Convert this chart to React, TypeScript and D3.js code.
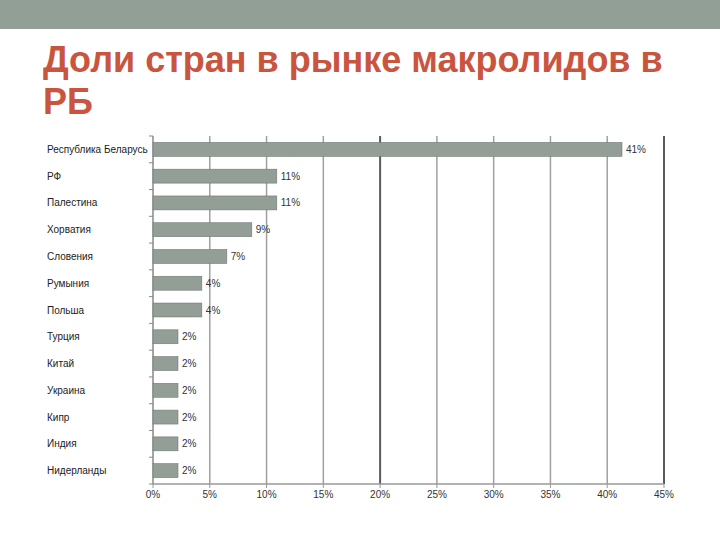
import React, { useEffect, useRef } from 'react';
import * as d3 from 'd3';

// Chart data
const countries = [
  'Республика Беларусь',
  'РФ',
  'Палестина',
  'Хорватия',
  'Словения',
  'Румыния',
  'Польша',
  'Турция',
  'Китай',
  'Украина',
  'Кипр',
  'Индия',
  'Нидерланды',
];
const shares = [41.3, 10.9, 10.9, 8.7, 6.5, 4.3, 4.3, 2.2, 2.2, 2.2, 2.2, 2.2, 2.2];
const shareLabels = ['41%', '11%', '11%', '9%', '7%', '4%', '4%', '2%', '2%', '2%', '2%', '2%', '2%'];
const xTicks = [0, 5, 10, 15, 20, 25, 30, 35, 40, 45];
const titleLines = ['Доли стран в рынке макролидов в', 'РБ'];

const App = () => {
  const ref = useRef<SVGSVGElement>(null);
  const width = 720;
  const height = 540;

  useEffect(() => {
    const svg = d3.select(ref.current);
    svg.selectAll('*').remove();

    // top band of the slide
    svg.append('rect').attr('x', 0).attr('y', 0).attr('width', width).attr('height', 29).attr('fill', '#919f97');

    // title
    svg
      .append('g')
      .selectAll('text')
      .data(titleLines)
      .enter()
      .append('text')
      .attr('x', 43)
      .attr('y', (d, i) => 72 + i * 42)
      .attr('font-family', '"Liberation Sans", Arial, sans-serif')
      .attr('font-weight', 'bold')
      .attr('font-size', 36)
      .attr('fill', '#c9553e')
      .text((d) => d);

    const left = 153;
    const right = 664;
    const top = 136;
    const bottom = 484;

    const x = d3.scaleLinear().domain([0, 45]).range([left, right]);
    const y = d3.scaleBand().domain(countries).range([top, bottom]).paddingInner(0.48).paddingOuter(0.24);

    const font = '"Liberation Sans", Arial, sans-serif';

    // vertical gridlines
    svg
      .append('g')
      .selectAll('line')
      .data(xTicks.slice(1))
      .enter()
      .append('line')
      .attr('x1', (d) => x(d))
      .attr('x2', (d) => x(d))
      .attr('y1', top)
      .attr('y2', bottom)
      .attr('stroke', (d) => (d === 20 || d === 45 ? '#5a5a5a' : '#a0a0a0'))
      .attr('stroke-width', (d) => (d === 20 || d === 45 ? 2 : 1.5));

    // left axis with category ticks
    svg.append('line').attr('x1', left).attr('x2', left).attr('y1', top).attr('y2', bottom).attr('stroke', '#888').attr('stroke-width', 1.5);
    const step = y.step();
    svg
      .append('g')
      .selectAll('line')
      .data(d3.range(countries.length + 1))
      .enter()
      .append('line')
      .attr('x1', left - 4)
      .attr('x2', left)
      .attr('y1', (i) => top + i * step)
      .attr('y2', (i) => top + i * step)
      .attr('stroke', '#888');

    // bottom axis
    svg.append('line').attr('x1', left).attr('x2', right).attr('y1', bottom).attr('y2', bottom).attr('stroke', '#999').attr('stroke-width', 1.5);
    svg
      .append('g')
      .selectAll('line')
      .data(xTicks)
      .enter()
      .append('line')
      .attr('x1', (d) => x(d))
      .attr('x2', (d) => x(d))
      .attr('y1', bottom)
      .attr('y2', bottom + 4)
      .attr('stroke', '#999');
    svg
      .append('g')
      .selectAll('text')
      .data(xTicks)
      .enter()
      .append('text')
      .attr('x', (d) => x(d))
      .attr('y', bottom + 14)
      .attr('text-anchor', 'middle')
      .attr('font-family', font)
      .attr('font-size', 10)
      .attr('fill', '#333')
      .text((d) => `${d}%`);

    // category labels
    svg
      .append('g')
      .selectAll('text')
      .data(countries)
      .enter()
      .append('text')
      .attr('x', 47)
      .attr('y', (d) => (y(d) as number) + y.bandwidth() / 2)
      .attr('dy', '0.35em')
      .attr('font-family', font)
      .attr('font-size', 10)
      .attr('fill', '#222')
      .text((d) => d);

    // bars
    svg
      .append('g')
      .selectAll('rect')
      .data(shares)
      .enter()
      .append('rect')
      .attr('x', x(0))
      .attr('y', (d, i) => y(countries[i]) as number)
      .attr('width', (d) => x(d) - x(0))
      .attr('height', y.bandwidth())
      .attr('fill', '#939e97')
      .attr('stroke', '#6f7a73')
      .attr('stroke-width', 0.6);

    // value labels
    svg
      .append('g')
      .selectAll('text')
      .data(shares)
      .enter()
      .append('text')
      .attr('x', (d) => x(d) + 4)
      .attr('y', (d, i) => (y(countries[i]) as number) + y.bandwidth() / 2)
      .attr('dy', '0.35em')
      .attr('font-family', font)
      .attr('font-size', 10)
      .attr('fill', '#333')
      .text((d, i) => shareLabels[i]);
  }, []);

  return (
    <div style={{ position: 'fixed', left: 0, top: 0, background: '#fff' }}>
      <svg ref={ref} width={width} height={height} />
    </div>
  );
};

export default App;
